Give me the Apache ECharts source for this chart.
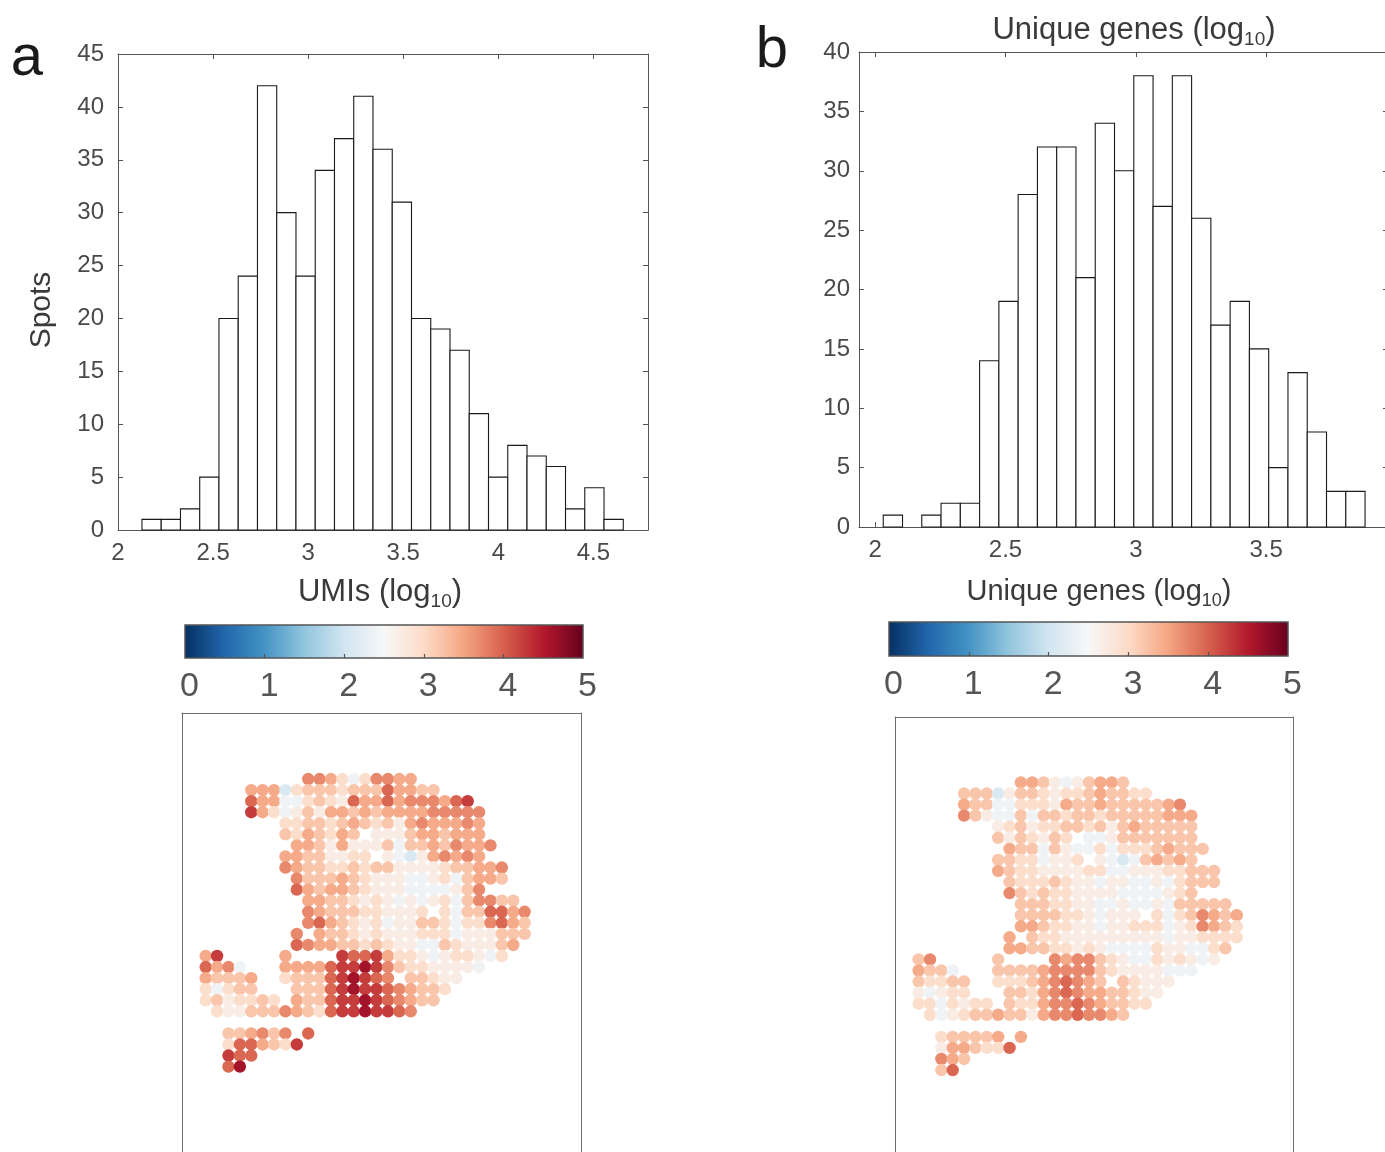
<!DOCTYPE html>
<html><head><meta charset="utf-8">
<script src="https://cdn.jsdelivr.net/npm/echarts@6/dist/echarts.min.js"></script>
<style>html,body{margin:0;padding:0;background:#fff}#c{width:1385px;height:1152px}</style>
</head><body><div id="c"></div>
<script>
// ---------- data ----------
const umiBinStart = 2.126, umiBinWidth = 0.10124;
const umiCounts = [1,1,2,5,20,24,42,30,24,34,37,41,36,31,20,19,17,11,5,8,7,6,2,4,1];
const geneBinStart = 2.031, geneBinWidth = 0.07394;
const geneCounts = [1,0,1,2,2,14,19,28,32,32,21,34,30,38,27,38,26,17,19,15,5,13,8,3,3];
const umiTicksX = [2,2.5,3,3.5,4,4.5];
const umiTicksY = [0,5,10,15,20,25,30,35,40,45];
const geneTicksX = [2,2.5,3,3.5];
const geneTicksY = [0,5,10,15,20,25,30,35,40];
const cbarLabels = [0,1,2,3,4,5];
const cbarTicks = [1,2,3,4];
const rdbu = ['#053061','#2166ac','#4393c3','#92c5de','#d1e5f0','#f7f7f7','#fddbc7','#f4a582','#d6604d','#b2182b','#67001f'];
// value read for each colour level code (0-9) used in the spot maps below
const spotLevels = [2.1, 2.4, 2.7, 2.95, 3.2, 3.45, 3.7, 3.95, 4.25, 4.6];
// spot maps: one string per array row, one char per array column ('.' = no spot)
const spotsUMI = [
".........6653136655..........",
"....55503444344475544........",
"....75511343275575666578.....",
"....853124255454555566666....",
".......334434543425655565....",
".......4354354.2224554555....",
"........554252224144546556...",
".......55442233.210256565....",
".......65443343442222344556..",
"........6444543222112314554..",
"........75455432221111246....",
".........5544323212123146644.",
".........65444332223.31447756",
".........67543231224431336754",
"........6.5443232223331222444",
"........76554434322114322245.",
"58.....5....877853321233213..",
"7561...555578898643322221....",
"54445..3444789876.44322......",
"31344...44478988765443.......",
"3423343.5447889876544........",
".322444654378898876..........",
".............................",
"..445646.7...................",
"..3775438....................",
"..877........................",
"..79........................."
];
const spotsGenes = [
".........5542124554..........",
"....44402443233454433........",
"....54411333254454444456.....",
"....642114144344344444555....",
".......234233443424544444....",
".......4243243.1124444444....",
"........544142113133345444...",
".......44331223.210145454....",
".......54332222331122233444..",
"........4333432212211213444..",
"........64343322221111234....",
".........4443322112112144444.",
".........44443321222.31346545",
".........55433221223331236543",
"........5.4332222222221223333",
"........55443323211113221134.",
"46.....4....656643211323212..",
"5441...444456666432222111....",
"43344..3334567654.43222......",
"21233...44356765544322.......",
"3313233.4335667654433........",
".312344544256676654..........",
".............................",
"..344445.5...................",
"..2554337....................",
"..654........................",
"..47........................."
];

// ---------- helpers ----------
function binData(start, width, counts){
  return counts.map((c,i)=>[start+i*width, start+(i+1)*width, c]);
}
function spotData(rows){
  const out=[];
  rows.forEach((row,r)=>{
    for(let c=0;c<row.length;c++){
      const ch=row[c];
      if(ch!=='.') out.push([c, r, spotLevels[+ch]]);
    }
  });
  return out;
}
const FONT='Liberation Sans, Arial, sans-serif';
const AX='#555';
const TXT='#4a4a4a';
const BOX='#6e6e6e';

function histX(grid, min, max, ticks, pos, labels){
  return {gridIndex:grid, type:'value', min:min, max:max, position:pos,
    axisLine:{show:true, onZero:false, lineStyle:{color:AX,width:1}},
    axisTick:{show:true, inside:true, length:5, customValues:ticks, lineStyle:{color:AX}},
    axisLabel:{show:labels, customValues:ticks, fontSize:24, color:TXT, margin:11, fontFamily:FONT},
    splitLine:{show:false}};
}
function histY(grid, min, max, ticks, pos, labels, margin, line, tickLen){
  return {gridIndex:grid, type:'value', min:min, max:max, position:pos,
    axisLine:{show:line, onZero:false, lineStyle:{color:AX,width:1}},
    axisTick:{show:true, inside:true, length:tickLen, customValues:ticks, lineStyle:{color:AX}},
    axisLabel:{show:labels, customValues:ticks, fontSize:24, color:TXT, margin:margin, fontFamily:FONT},
    splitLine:{show:false}};
}
function cbarX(grid){
  return {gridIndex:grid, type:'value', min:0, max:5, position:'bottom', z:10,
    axisLine:{show:false},
    axisTick:{show:true, inside:true, length:4, customValues:cbarTicks, lineStyle:{color:AX,width:1.2}},
    axisLabel:{customValues:cbarLabels, fontSize:34, color:'#555', margin:12, padding:[0,0,0,9], fontFamily:FONT},
    splitLine:{show:false}};
}
function hiddenAxis(grid, min, max){
  return {gridIndex:grid, type:'value', min:min, max:max, show:false, splitLine:{show:false}};
}
function frameAxis(grid, min, max, pos, inverse){
  return {gridIndex:grid, type:'value', min:min, max:max, position:pos, inverse:!!inverse,
    axisLine:{show:true, onZero:false, lineStyle:{color:BOX, width:1}},
    axisTick:{show:false}, axisLabel:{show:false}, splitLine:{show:false}};
}
function barRender(params, api){
  if(api.value(2)<=0) return null;
  const p0=api.coord([api.value(0), api.value(2)]);
  const p1=api.coord([api.value(1), 0]);
  return {type:'rect', shape:{x:p0[0], y:p0[1], width:p1[0]-p0[0], height:p1[1]-p0[1]},
    style:{fill:'#fff', stroke:'#1a1a1a', lineWidth:1.1}};
}
function cbarRender(params, api){
  const p0=api.coord([0,1]);
  const p1=api.coord([5,0]);
  const stops=rdbu.map((c,i)=>({offset:i/(rdbu.length-1), color:c}));
  return {type:'rect', shape:{x:p0[0], y:p0[1], width:p1[0]-p0[0], height:p1[1]-p0[1]},
    style:{fill:new echarts.graphic.LinearGradient(0,0,1,0,stops), stroke:'#555', lineWidth:1.5}};
}
function subLabel(main, x, y, size){
  return {type:'text', x:x, y:y, z:100,
    style:{text:'{m|'+main+' (log}{s|10}{m|)}', align:'center', verticalAlign:'middle',
      rich:{m:{fontSize:size, fill:'#3a3a3a', fontFamily:FONT, lineHeight:Math.round(size*1.25), verticalAlign:'middle'},
            s:{fontSize:Math.round(size*0.62), fill:'#3a3a3a', fontFamily:FONT, lineHeight:Math.round(size*0.5), verticalAlign:'bottom'}}}};
}

const chart = echarts.init(document.getElementById('c'), null, {renderer:'canvas'});
const option = {
  animation:false,
  backgroundColor:'#fff',
  grid:[
    {left:118, top:54, width:530, height:476},
    {left:859, top:52, width:526, height:475},
    {left:185, top:625, width:398, height:33},
    {left:889, top:622, width:399, height:34},
    {left:182, top:713, width:399, height:439},
    {left:895, top:717, width:398, height:435}
  ],
  xAxis:[
    histX(0, 2, 4.787, umiTicksX, 'bottom', true),
    histX(0, 2, 4.787, umiTicksX, 'top', false),
    histX(1, 1.938, 3.956, geneTicksX, 'bottom', true),
    histX(1, 1.938, 3.956, geneTicksX, 'top', false),
    cbarX(2),
    cbarX(3),
    frameAxis(4, -2.081, 32.95, 'top'),
    frameAxis(5, -2.081, 32.95, 'top')
  ],
  yAxis:[
    histY(0, 0, 45, umiTicksY, 'left', true, 14, true, 5),
    histY(0, 0, 45, umiTicksY, 'right', false, 8, true, 5),
    histY(1, 0, 40, geneTicksY, 'left', true, 9, true, 5),
    histY(1, 0, 40, geneTicksY, 'right', false, 8, false, 2),
    hiddenAxis(2, 0, 1),
    hiddenAxis(3, 0, 1),
    frameAxis(4, -5.97, 33.72, 'left', true),
    frameAxis(5, -5.92, 33.41, 'left', true),
    frameAxis(4, -5.97, 33.72, 'right', true),
    frameAxis(5, -5.92, 33.41, 'right', true)
  ],
  visualMap:{type:'continuous', min:0, max:5, dimension:2, seriesIndex:[4,5], inRange:{color:rdbu}, show:false},
  series:[
    {type:'custom', xAxisIndex:0, yAxisIndex:0, renderItem:barRender, encode:{x:[0,1], y:2}, data:binData(umiBinStart, umiBinWidth, umiCounts), z:3},
    {type:'custom', xAxisIndex:2, yAxisIndex:2, renderItem:barRender, encode:{x:[0,1], y:2}, data:binData(geneBinStart, geneBinWidth, geneCounts), z:3},
    {type:'custom', xAxisIndex:4, yAxisIndex:4, renderItem:cbarRender, data:[[0,0]], z:2},
    {type:'custom', xAxisIndex:5, yAxisIndex:5, renderItem:cbarRender, data:[[0,0]], z:2},
    {type:'scatter', xAxisIndex:6, yAxisIndex:6, symbol:'circle', symbolSize:12.4, data:spotData(spotsUMI), itemStyle:{opacity:1}},
    {type:'scatter', xAxisIndex:7, yAxisIndex:7, symbol:'circle', symbolSize:12.4, data:spotData(spotsGenes), itemStyle:{opacity:1}}
  ],
  graphic:[
    {type:'text', x:27, y:59, style:{text:'a', fontSize:58, fill:'#1a1a1a', fontFamily:FONT, align:'center', verticalAlign:'middle'}},
    {type:'text', x:772, y:51, style:{text:'b', fontSize:58, fill:'#1a1a1a', fontFamily:FONT, align:'center', verticalAlign:'middle'}},
    {type:'text', x:42, y:310, rotation:Math.PI/2, style:{text:'Spots', fontSize:30, fill:'#3a3a3a', fontFamily:FONT, align:'center', verticalAlign:'middle'}},
    subLabel('UMIs', 380, 592, 31),
    subLabel('Unique genes', 1134, 30, 31),
    subLabel('Unique genes', 1099, 592, 29)
  ]
};
chart.setOption(option);
</script>
</body></html>
